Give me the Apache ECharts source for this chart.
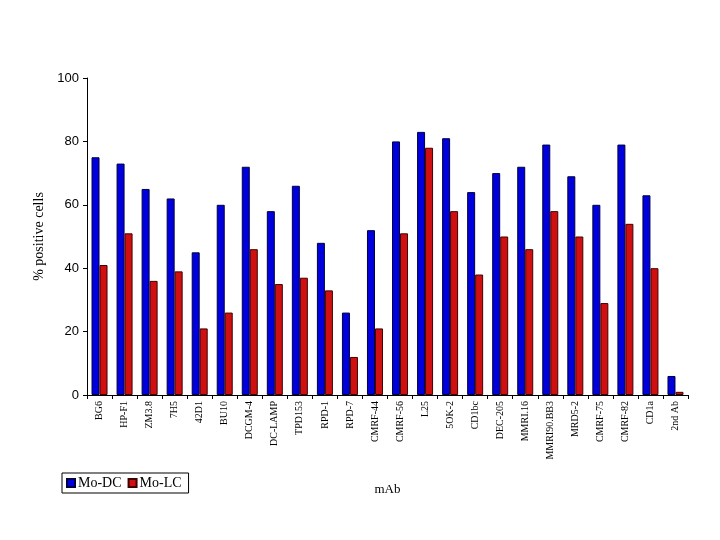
<!DOCTYPE html>
<html><head><meta charset="utf-8">
<script src="https://cdn.jsdelivr.net/npm/echarts@6/dist/echarts.min.js"></script>
<style>html,body{margin:0;padding:0;background:#fff}#c{width:720px;height:540px}</style>
</head><body><div id="c"></div>
<script>
var categories = ['BG6','HP-F1','ZM3.8','7H5','42D1','BU10','DCGM-4','DC-LAMP','TPD153','RPD-1','RPD-7','CMRF-44','CMRF-56','L25','5OK-2','CD1bc','DEC-205','MMRI.16','MMRI90.BB3','MRD5-2','CMRF-75','CMRF-82','CD1a','2nd Ab'];
var moDC = [75,73,65,62,45,60,72,58,66,48,26,52,80,83,81,64,70,72,79,69,60,79,63,6];
var moLC = [41,51,36,39,21,26,46,35,37,33,12,21,51,78,58,38,50,46,58,50,29,54,40,1];
var yTicks = [0,20,40,60,80,100];

var chart = echarts.init(document.getElementById('c'));
chart.setOption({
  animation:false,
  backgroundColor:'#fff',
  grid:{left:87,right:32,top:78,bottom:145,containLabel:false},
  legend:{
    left:62, top:473, orient:'horizontal',
    borderColor:'#000', borderWidth:1, padding:[3,7,3,4],
    itemWidth:8, itemHeight:8, itemGap:6,
    icon:'rect',
    textStyle:{fontFamily:'Liberation Serif',fontSize:14,color:'#000',padding:[0,0,0,-2]},
    data:['Mo-DC','Mo-LC']
  },
  xAxis:{
    type:'category', data:categories,
    name:'mAb', nameLocation:'middle', nameGap:88,
    nameTextStyle:{fontFamily:'Liberation Serif',fontSize:13,color:'#000'},
    axisLine:{lineStyle:{color:'#000',width:1}},
    axisTick:{show:true,length:4,lineStyle:{color:'#000'}},
    axisLabel:{rotate:90,interval:0,fontFamily:'Liberation Serif',fontSize:10,color:'#000',margin:6}
  },
  yAxis:{
    type:'value', min:0, max:100, interval:20,
    name:'% positive cells', nameLocation:'middle', nameGap:40,
    nameTextStyle:{fontFamily:'Liberation Serif',fontSize:14,color:'#000'},
    axisLine:{show:true,lineStyle:{color:'#000',width:1}},
    axisTick:{show:true,length:4,lineStyle:{color:'#000'}},
    splitLine:{show:false},
    axisLabel:{fontFamily:'Liberation Sans',fontSize:13,color:'#000',margin:8,
      formatter:function(v){return yTicks.indexOf(v)>=0?String(v):'';}}
  },
  series:[
    {name:'Mo-DC',type:'bar',data:moDC,barWidth:8,barGap:'0%',
     itemStyle:{color:'#0000dd',borderColor:'#000040',borderWidth:1}},
    {name:'Mo-LC',type:'bar',data:moLC,barWidth:8,barGap:'0%',
     itemStyle:{color:'#d01010',borderColor:'#400000',borderWidth:1}}
  ]
});
</script></body></html>
